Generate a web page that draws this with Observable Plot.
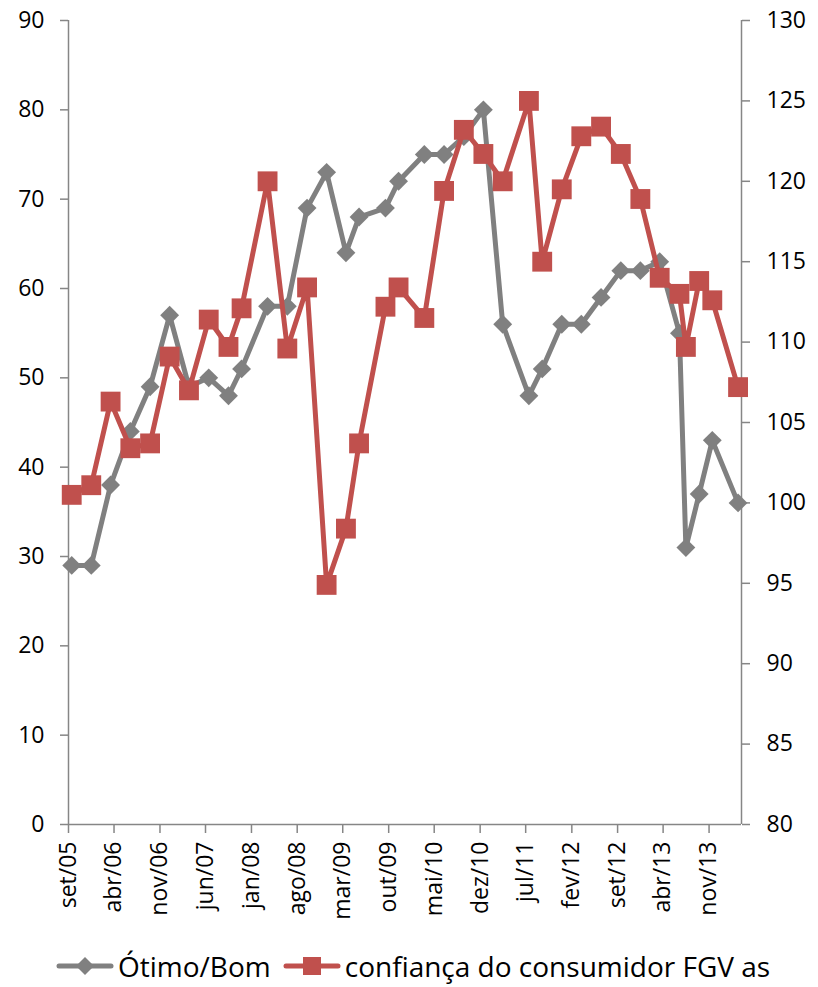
<!DOCTYPE html>
<html>
<head>
<meta charset="utf-8">
<script src="https://cdn.jsdelivr.net/npm/d3@7"></script>
<script src="https://cdn.jsdelivr.net/npm/@observablehq/plot@0.6"></script>
<style>
  html, body { margin: 0; padding: 0; background: #fff; }
  #chart svg { display: block; }
  #legend { height: 57px; box-sizing: border-box; padding-top: 14px; padding-left: 56px;
            display: flex; align-items: center; font-family: "Open Sans", sans-serif; font-size: 28px; color: #000; white-space: nowrap; }
  #legend .item { display: flex; align-items: center; }
  #legend svg { display: block; }
</style>
</head>
<body>
<div id="chart"></div>
<div id="legend"></div>
<script>
// Poll months (YYYY-MM)
const months = ["2005-09","2005-12","2006-03","2006-06","2006-09","2006-12","2007-03","2007-06","2007-09","2007-11",
  "2008-03","2008-06","2008-09","2008-12","2009-03","2009-05","2009-09","2009-11","2010-03","2010-06",
  "2010-09","2010-12","2011-03","2011-07","2011-09","2011-12","2012-03","2012-06","2012-09","2012-12",
  "2013-03","2013-06","2013-07","2013-09","2013-11","2014-03"];
// Ótimo/Bom (left axis, %)
const otimoBom = [29,29,38,44,49,57,49,50,48,51,58,58,69,73,64,68,69,72,75,75,77,80,56,48,51,56,56,59,62,62,63,55,31,37,43,36];
// confiança do consumidor FGV (right axis)
const confianca = [100.5,101.1,106.3,103.4,103.7,109.1,107.0,111.4,109.7,112.1,120.0,109.6,113.4,94.9,98.4,103.7,112.2,113.4,111.5,119.4,
  123.2,121.7,120.0,125.0,115.0,119.5,122.8,123.4,121.7,118.9,114.0,113.0,109.7,113.8,112.6,107.2];
// axis ticks
const tickLabels = ["set/05","abr/06","nov/06","jun/07","jan/08","ago/08","mar/09","out/09","mai/10","dez/10","jul/11","fev/12","set/12","abr/13","nov/13"];
const leftTicks = [0,10,20,30,40,50,60,70,80,90];
const rightTicks = [80,85,90,95,100,105,110,115,120,125,130];
const seriesNames = ["Ótimo/Bom", "confiança do consumidor FGV as"];

const ptMonths = ["jan","fev","mar","abr","mai","jun","jul","ago","set","out","nov","dez"];
const gray = "#808080", red = "#C0504D", axisColor = "#868686";

const parseMonth = s => { const [y, m] = s.split("-").map(Number); return new Date(Date.UTC(y, m - 1, 16)); };
const tickDates = tickLabels.map(l => { const [mm, yy] = l.split("/"); return new Date(Date.UTC(2000 + Number(yy), ptMonths.indexOf(mm), 1)); });
const fmt = d => ptMonths[d.getUTCMonth()] + "/" + String(d.getUTCFullYear() % 100).padStart(2, "0");

const data = months.map((m, i) => ({date: parseMonth(m), ob: otimoBom[i], fgv: confianca[i]}));
const x0 = new Date(Date.UTC(2005, 8, 1)), x1 = new Date(Date.UTC(2014, 3, 1));
const r2l = d3.scaleLinear([80, 130], [0, 90]);

const chart = Plot.plot({
  width: 818, height: 930,
  marginLeft: 68, marginRight: 77, marginTop: 20, marginBottom: 106,
  style: {fontFamily: "Open Sans", fontSize: "23px", color: "#000", background: "#fff"},
  x: {type: "utc", domain: [x0, x1]},
  y: {domain: [0, 90]},
  marks: [
    Plot.ruleX([x0, x1], {stroke: axisColor, strokeWidth: 1.5}),
    Plot.ruleY([0], {stroke: axisColor, strokeWidth: 1.5}),
    Plot.axisY(leftTicks, {anchor: "left", tickSize: 8, tickPadding: 16, stroke: axisColor, fill: "#000", strokeWidth: 1.5, label: null, fontSize: 23}),
    Plot.axisY(rightTicks.map(r2l), {anchor: "right", tickFormat: d => String(Math.round(r2l.invert(d))), tickSize: 8, tickPadding: 17, stroke: axisColor, fill: "#000", strokeWidth: 1.5, label: null, fontSize: 23}),
    Plot.axisX(tickDates, {anchor: "bottom", tickFormat: fmt, tickRotate: -90, tickSize: 9, tickPadding: 8, stroke: axisColor, fill: "#000", strokeWidth: 1.5, label: null, fontSize: 23}),
    Plot.line(data, {x: "date", y: "ob", stroke: gray, strokeWidth: 5}),
    Plot.dot(data, {x: "date", y: "ob", symbol: "diamond2", r: 8.5, fill: gray, stroke: null}),
    Plot.line(data, {x: "date", y: d => r2l(d.fgv), stroke: red, strokeWidth: 5}),
    Plot.dot(data, {x: "date", y: d => r2l(d.fgv), symbol: "square", r: 11.2, fill: red, stroke: null})
  ]
});
document.getElementById("chart").append(chart);

// legend
const legend = document.getElementById("legend");
const swatch = (color, kind) => {
  const marker = kind === "diamond"
    ? `<polygon points="29,1 38,10 29,19 20,10" fill="${color}"/>`
    : `<rect x="20" y="1" width="18" height="18" fill="${color}"/>`;
  return `<svg width="58" height="20"><line x1="3" x2="55" y1="10" y2="10" stroke="${color}" stroke-width="5" stroke-linecap="round"/>${marker}</svg>`;
};
legend.innerHTML =
  `<div class="item">${swatch(gray, "diamond")}<span style="margin-left:4px">${seriesNames[0]}</span></div>` +
  `<div class="item" style="margin-left:12px">${swatch(red, "square")}<span style="margin-left:4px">${seriesNames[1]}</span></div>`;
</script>
</body>
</html>
